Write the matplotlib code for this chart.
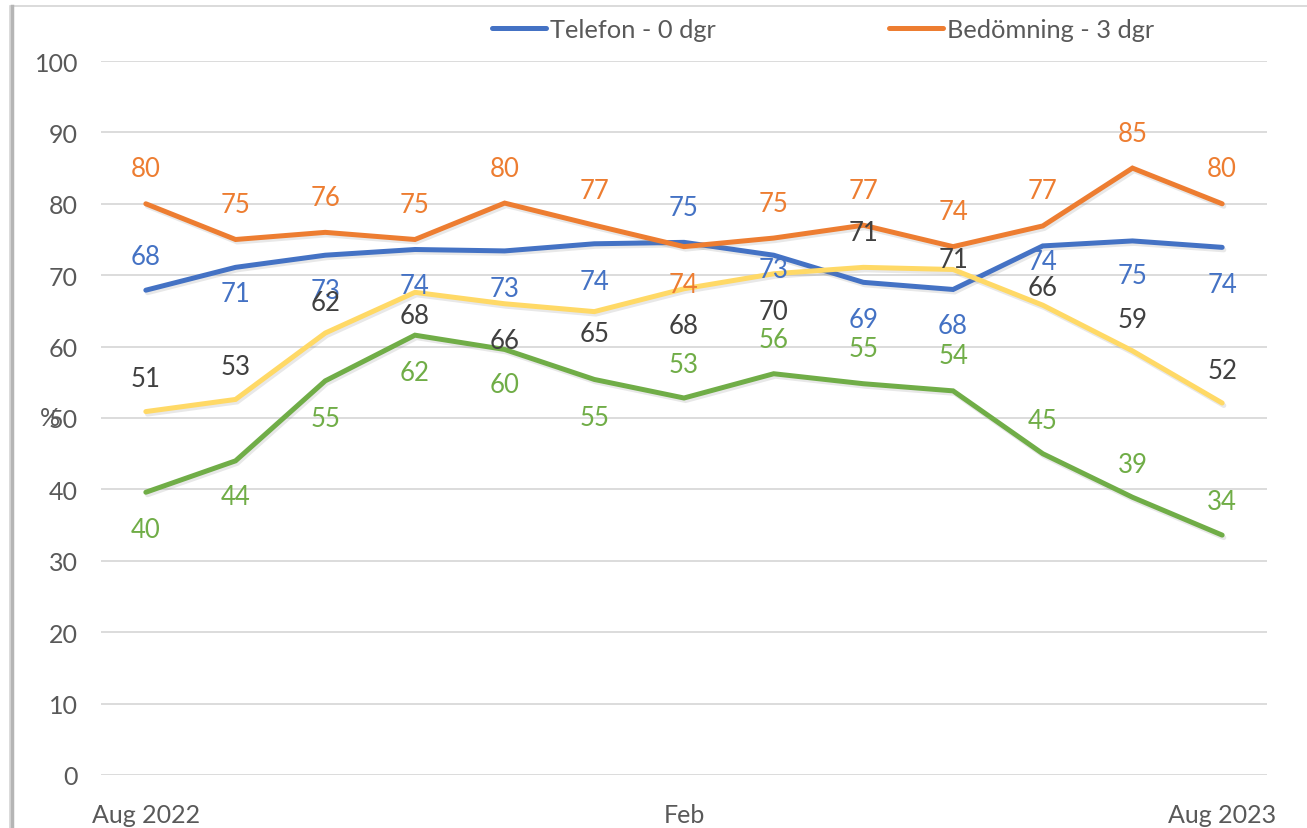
import matplotlib
matplotlib.use("Agg")
import matplotlib.pyplot as plt
import matplotlib.patheffects as pe
from matplotlib.lines import Line2D
from matplotlib.patches import Rectangle

# Data (Aug 2022 .. Aug 2023, monthly)
months = ["Aug 2022", "", "", "", "", "", "Feb", "", "", "", "", "", "Aug 2023"]

telefon = [67.9, 71.1, 72.8, 73.6, 73.4, 74.4, 74.6, 72.8, 69.0, 68.0, 74.1, 74.8, 73.9]
bedomning = [80.0, 75.0, 76.0, 75.0, 80.1, 77.0, 74.0, 75.2, 77.0, 74.0, 76.9, 85.0, 80.0]
serie_gul = [50.9, 52.6, 61.9, 67.6, 66.0, 64.9, 68.1, 70.2, 71.1, 70.8, 65.8, 59.4, 52.1]
serie_gron = [39.6, 44.0, 55.2, 61.6, 59.6, 55.4, 52.8, 56.2, 54.8, 53.8, 45.0, 38.9, 33.6]

# label offsets in pixels (positive = above the point)
telefon_dy = [34, -26, -35, -36, -38, -38, 35, -14, -37, -36, -16, -35, -37]
bedomning_dy = [35, 35, 35, 35, 35, 35, -38, 35, 35, 35, 35, 35, 35]
gul_dy = [33, 33, 31, -23, -37, -22, -37, -38, 35, 10, 18, 31, 33]
gron_dy = [-37, -36, -38, -37, -35, -38, 34, 34, 35, 35, 33, 33, 34]

BLUE = "#4472C4"
ORANGE = "#ED7D31"
YELLOW = "#FFD966"
GREEN = "#70AD47"
TXT = "#595959"

plt.rcParams['font.family'] = ['Lato', 'DejaVu Sans']

fig = plt.figure(figsize=(13.07, 8.29), dpi=100)
W, H = 1307, 829

# outer chart frame
fig.patches.append(Rectangle((10 / W, -0.01), 1.0, 1 - 7 / H + 0.01, transform=fig.transFigure,
                             fill=False, edgecolor="#d4d4d4", linewidth=1.2))
fig.lines.append(Line2D([11.5 / W, 11.5 / W], [0, 1 - 7 / H], transform=fig.transFigure,
                        color="#b5b5b5", linewidth=2.5))

ax = fig.add_axes([101 / W, (H - 776) / H, 1166 / W, 714 / H])

x = list(range(len(months)))
shadow = [pe.SimpleLineShadow(offset=(1.2, -1.8), shadow_color="gray", alpha=0.18), pe.Normal()]

series = [
    (telefon, BLUE, BLUE, telefon_dy, "Telefon - 0 dgr"),
    (bedomning, ORANGE, ORANGE, bedomning_dy, "Bedömning - 3 dgr"),
    (serie_gul, YELLOW, "#404040", gul_dy, None),
    (serie_gron, GREEN, GREEN, gron_dy, None),
]

handles = []
for values, color, label_color, dys, name in series:
    line, = ax.plot(x, values, color=color, linewidth=3.6, solid_capstyle="round",
                    solid_joinstyle="miter", path_effects=shadow, zorder=3)
    if name is not None:
        handles.append((line, name))
    for xi, yi, dy in zip(x, values, dys):
        ax.annotate("%.0f" % yi, (xi, yi), xytext=(0, dy * 0.72), textcoords="offset points",
                    ha="center", va="center", color=label_color, fontsize=18.5, zorder=4)

ax.set_xlim(-0.5, 12.5)
ax.set_ylim(0, 100)
ax.set_yticks(range(0, 101, 10))
ax.set_xticks(x)
ax.set_xticklabels(months)
ax.grid(axis="y", color="#D9D9D9", linewidth=1.3)
ax.set_axisbelow(True)
for s in ax.spines.values():
    s.set_visible(False)
ax.tick_params(axis="both", length=0, colors=TXT, labelsize=18)
ax.tick_params(axis="x", pad=20)
ax.tick_params(axis="y", pad=16.5)
ax.set_ylabel("%", rotation=0, color=TXT, fontsize=18, va="center", ha="center")
ax.yaxis.set_label_coords(-0.044, 0.5)

leg_handles = [Line2D([0], [0], color=h.get_color(), linewidth=3.6, solid_capstyle="round")
               for h, _ in handles]
fig.legend(leg_handles, [n for _, n in handles], ncol=2, frameon=False,
           loc="center left", bbox_to_anchor=(479 / W, 1 - 30 / H), borderpad=0,
           fontsize=18.3, labelcolor=TXT, handlelength=2.15, handletextpad=0.15,
           columnspacing=6.8)

fig.savefig("out.png", dpi=100)
